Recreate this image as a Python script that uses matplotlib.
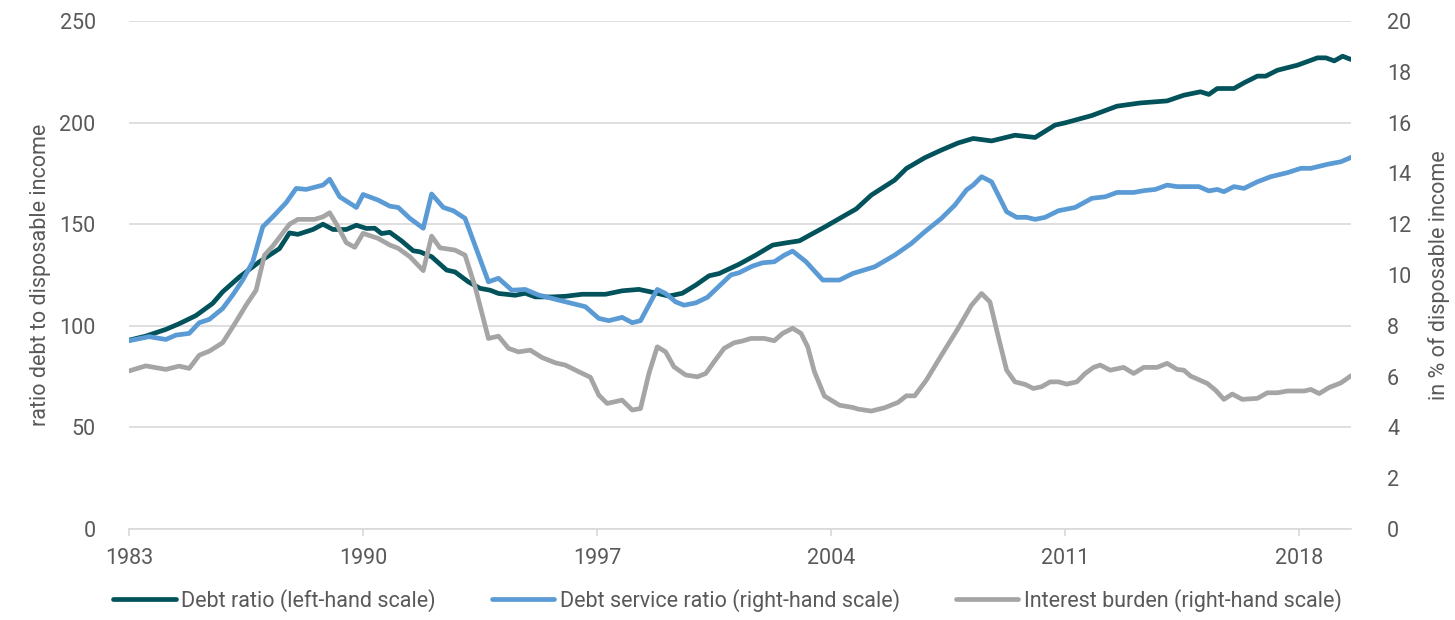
import matplotlib.pyplot as plt

# values
debt_years = [1983.0, 1983.5, 1984.1, 1984.5, 1985.0, 1985.5, 1985.8, 1986.3, 1986.9, 1987.5,
              1987.8, 1988.05, 1988.5, 1988.8, 1989.1, 1989.5, 1989.8, 1990.1, 1990.35, 1990.55,
              1990.8, 1991.15, 1991.5, 1991.7, 1992.05, 1992.5, 1992.75, 1993.15, 1993.5, 1993.8,
              1994.05, 1994.55, 1994.85, 1995.15, 1995.65, 1996.05, 1996.55, 1997.25, 1997.75, 1998.25,
              1998.65, 1999.15, 1999.55, 1999.95, 2000.35, 2000.65, 2001.25, 2001.75, 2002.25, 2002.65,
              2003.05, 2003.45, 2003.85, 2004.25, 2004.75, 2005.2, 2005.9, 2006.25, 2006.8, 2007.3,
              2007.8, 2008.25, 2008.8, 2009.5, 2010.1, 2010.7, 2011.0, 2011.8, 2012.55, 2013.25,
              2014.05, 2014.55, 2015.05, 2015.3, 2015.55, 2016.05, 2016.35, 2016.75, 2017.0, 2017.35,
              2017.95, 2018.55, 2018.8, 2019.05, 2019.3, 2019.55]
debt_ratio = [92.9, 94.9, 98.2, 101, 105, 111, 116.7, 124, 131.5, 138,
              145.7, 145, 147.4, 150, 147.4, 147.4, 149.5, 147.9, 148, 145.4,
              146, 141.8, 136.9, 136.4, 134, 127.4, 126.5, 121.6, 118.4, 117.5,
              115.9, 115, 116, 114.2, 114.2, 114.5, 115.5, 115.5, 117.2, 117.9,
              116.5, 114.6, 116, 120, 124.6, 125.7, 130.3, 134.8, 139.7, 140.8,
              141.8, 145.4, 149, 152.8, 157.5, 164.3, 171.7, 177.4, 182.7, 186.5,
              190, 192.2, 191, 193.8, 192.7, 198.8, 199.9, 203.5, 208.1, 209.7,
              210.7, 213.5, 215.2, 213.9, 216.8, 216.8, 219.6, 222.9, 222.9, 225.8,
              228.3, 231.9, 231.9, 230.4, 232.7, 231.1]

dsr_years = [1983.0, 1983.6, 1984.1, 1984.4, 1984.8, 1985.1, 1985.4, 1985.8, 1986.1, 1986.4,
             1986.7, 1987.0, 1987.3, 1987.7, 1988.0, 1988.3, 1988.8, 1989.0, 1989.3, 1989.8,
             1990.0, 1990.45, 1990.8, 1991.05, 1991.4, 1991.8, 1992.05, 1992.4, 1992.7, 1993.05,
             1993.4, 1993.75, 1994.05, 1994.45, 1994.85, 1995.25, 1995.85, 1996.65, 1997.05, 1997.35,
             1997.75, 1998.05, 1998.3, 1998.8, 1999.05, 1999.35, 1999.6, 1999.95, 2000.3, 2000.65,
             2001.0, 2001.25, 2001.65, 2001.95, 2002.3, 2002.6, 2002.85, 2003.25, 2003.75, 2004.25,
             2004.65, 2005.3, 2005.9, 2006.4, 2006.8, 2007.3, 2007.7, 2008.05, 2008.25, 2008.5,
             2008.8, 2009.25, 2009.55, 2009.85, 2010.1, 2010.4, 2010.8, 2011.3, 2011.8, 2012.2,
             2012.55, 2013.05, 2013.35, 2013.7, 2014.05, 2014.35, 2015.0, 2015.3, 2015.55, 2015.75,
             2016.05, 2016.35, 2016.75, 2017.15, 2017.65, 2018.05, 2018.35, 2018.85, 2019.25, 2019.55]
dsr = [7.41, 7.57, 7.46, 7.63, 7.70, 8.12, 8.25, 8.68, 9.21, 9.80,
       10.52, 11.9, 12.29, 12.85, 13.41, 13.37, 13.54, 13.77, 13.08, 12.66,
       13.17, 12.95, 12.71, 12.66, 12.23, 11.84, 13.19, 12.66, 12.53, 12.23,
       10.98, 9.73, 9.87, 9.40, 9.43, 9.21, 9.01, 8.75, 8.29, 8.20,
       8.33, 8.12, 8.20, 9.43, 9.27, 8.94, 8.81, 8.90, 9.12, 9.56,
       10.0, 10.09, 10.35, 10.48, 10.52, 10.78, 10.94, 10.52, 9.80, 9.80,
       10.06, 10.32, 10.78, 11.24, 11.70, 12.23, 12.75, 13.35, 13.54, 13.87,
       13.67, 12.49, 12.27, 12.27, 12.19, 12.27, 12.53, 12.66, 13.02, 13.08,
       13.25, 13.25, 13.32, 13.37, 13.54, 13.48, 13.48, 13.31, 13.37, 13.28,
       13.48, 13.41, 13.67, 13.87, 14.03, 14.20, 14.20, 14.36, 14.46, 14.63]

ib_years = [1983.0, 1983.5, 1984.1, 1984.5, 1984.8, 1985.1, 1985.4, 1985.8, 1986.2, 1986.5,
            1986.8, 1987.05, 1987.3, 1987.55, 1987.8, 1988.05, 1988.55, 1988.8, 1989.0, 1989.25,
            1989.5, 1989.75, 1990.0, 1990.45, 1990.8, 1991.05, 1991.4, 1991.8, 1992.05, 1992.3,
            1992.75, 1993.05, 1993.35, 1993.75, 1994.05, 1994.35, 1994.65, 1995.0, 1995.35, 1995.75,
            1996.05, 1996.45, 1996.8, 1997.05, 1997.3, 1997.75, 1998.05, 1998.3, 1998.55, 1998.8,
            1999.05, 1999.3, 1999.65, 2000.0, 2000.25, 2000.5, 2000.8, 2001.1, 2001.35, 2001.6,
            2002.0, 2002.3, 2002.55, 2002.85, 2003.1, 2003.3, 2003.5, 2003.8, 2004.25, 2004.65,
            2004.8, 2005.2, 2005.6, 2006.0, 2006.25, 2006.5, 2006.85, 2007.3, 2007.8, 2008.2,
            2008.5, 2008.75, 2009.0, 2009.25, 2009.5, 2009.8, 2010.05, 2010.3, 2010.55, 2010.8,
            2011.05, 2011.35, 2011.6, 2011.85, 2012.05, 2012.35, 2012.75, 2013.05, 2013.35, 2013.75,
            2014.05, 2014.35, 2014.55, 2014.75, 2015.25, 2015.5, 2015.75, 2016.0, 2016.3, 2016.75,
            2017.05, 2017.35, 2017.65, 2018.15, 2018.35, 2018.6, 2018.9, 2019.25, 2019.55]
ib = [6.22, 6.42, 6.28, 6.41, 6.32, 6.84, 7.00, 7.33, 8.16, 8.81,
      9.40, 10.78, 11.14, 11.57, 12.0, 12.19, 12.19, 12.29, 12.45, 11.90,
      11.27, 11.09, 11.64, 11.44, 11.18, 11.05, 10.72, 10.17, 11.53, 11.07,
      10.98, 10.78, 9.54, 7.50, 7.59, 7.11, 6.97, 7.04, 6.75, 6.54,
      6.45, 6.19, 5.97, 5.27, 4.94, 5.07, 4.68, 4.74, 6.12, 7.17,
      6.97, 6.38, 6.06, 5.99, 6.12, 6.58, 7.11, 7.33, 7.40, 7.50,
      7.50, 7.41, 7.70, 7.90, 7.70, 7.17, 6.19, 5.23, 4.87, 4.78,
      4.72, 4.64, 4.77, 4.98, 5.24, 5.24, 5.86, 6.84, 7.90, 8.81,
      9.27, 8.94, 7.57, 6.25, 5.79, 5.69, 5.53, 5.60, 5.79, 5.79,
      5.70, 5.79, 6.12, 6.36, 6.45, 6.25, 6.36, 6.12, 6.36, 6.36,
      6.52, 6.28, 6.25, 6.02, 5.73, 5.46, 5.10, 5.31, 5.10, 5.14,
      5.36, 5.36, 5.43, 5.43, 5.49, 5.33, 5.57, 5.75, 6.03]

year_ticks = [1983, 1990, 1997, 2004, 2011, 2018]

dark = '#01525a'
blue = '#5b9bd5'
grey = '#a5a5a5'
txt = '#595959'
gridc = '#d9d9d9'
fs = 15.5

plt.rcParams['font.family'] = ['Roboto', 'DejaVu Sans']

fig = plt.figure(figsize=(14.55, 6.2), dpi=100)
ax = fig.add_axes([0.0887, 0.147, 0.8398, 0.819])
ax2 = ax.twinx()

l1, = ax.plot(debt_years, debt_ratio, color=dark, lw=3.4, solid_capstyle='round',
              label='Debt ratio (left-hand scale)')
l2, = ax2.plot(dsr_years, dsr, color=blue, lw=3.4, solid_capstyle='round',
               label='Debt service ratio (right-hand scale)')
l3, = ax2.plot(ib_years, ib, color=grey, lw=3.4, solid_capstyle='round',
               label='Interest burden (right-hand scale)')

ax.set_xlim(1983, 2019.55)
ax.set_ylim(0, 250)
ax2.set_ylim(0, 20)
ax.set_yticks(range(0, 251, 50))
ax2.set_yticks(range(0, 21, 2))
ax.set_xticks(year_ticks)

ax.grid(axis='y', color=gridc, lw=1.2)
ax.set_axisbelow(True)
for a in (ax, ax2):
    for s in ('top', 'left', 'right'):
        a.spines[s].set_visible(False)
ax2.spines['bottom'].set_visible(False)
ax.spines['bottom'].set_color(gridc)
ax.spines['bottom'].set_linewidth(1.2)

ax.tick_params(axis='y', length=0, labelsize=fs, labelcolor=txt, pad=24)
ax2.tick_params(axis='y', length=0, labelsize=fs, labelcolor=txt, pad=26)
ax.tick_params(axis='x', length=5, width=1.2, color=gridc, labelsize=fs, labelcolor=txt, pad=9)

ax.set_ylabel('ratio debt to disposable income', fontsize=fs, color=txt, labelpad=6)
ax2.set_ylabel('in % of disposable income', fontsize=fs, color=txt, labelpad=12)

fig.legend(handles=[l1, l2, l3], loc='lower center', bbox_to_anchor=(0.5, -0.018), ncol=3,
           frameon=False, fontsize=fs, labelcolor=txt, handlelength=2.9,
           handletextpad=0.25, columnspacing=2.6)

fig.savefig('out.png', dpi=100)
